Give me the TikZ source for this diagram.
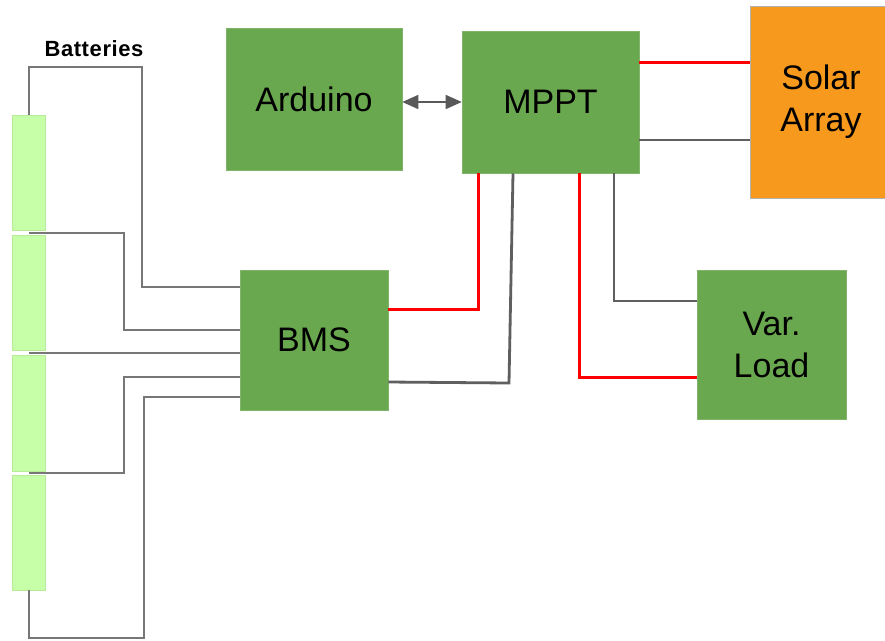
\documentclass[tikz,border=0pt]{standalone}
\usepackage{fontspec}
\setmainfont{Liberation Sans}
\usetikzlibrary{arrows.meta,calc}
\definecolor{boxgreen}{HTML}{6AA84F}
\definecolor{cellgreen}{HTML}{C6FFA8}
\definecolor{cellborder}{HTML}{B6EB98}
\definecolor{solarorange}{HTML}{F7991C}
\definecolor{wiregray}{HTML}{5F5F5F}
\definecolor{batgray}{HTML}{777777}
\definecolor{wirered}{HTML}{FF0000}
\tikzset{
  blockbox/.style={fill=boxgreen, draw=boxgreen!85!white, line width=0.6pt, inner sep=0pt,
    font=\fontsize{34}{42}\selectfont, align=center},
  cellbox/.style={fill=cellgreen, draw=cellborder, line width=0.8pt, minimum width=33pt, minimum height=115pt, inner sep=0pt},
  redwire/.style={draw=wirered, line width=3pt},
  graywire/.style={draw=wiregray, line width=2.8pt},
  batwire/.style={draw=batgray, line width=2pt},
}
\begin{document}
\begin{tikzpicture}[x=1pt,y=-1pt]
\useasboundingbox (0,0) rectangle (885,640);
\fill[white] (0,0) rectangle (885,640);

% blocks
\node[blockbox, minimum width=176pt, minimum height=142pt] (arduino) at (314,99) {Arduino};
\node[blockbox, minimum width=177pt, minimum height=142pt] (mppt) at (550.5,102) {MPPT};
\node[blockbox, fill=solarorange, draw=black!30, minimum width=142pt, minimum height=192pt] (solar) at (821,102) {Solar\\Array};
\node[blockbox, minimum width=148pt, minimum height=140pt] (bms) at (314,340) {BMS};
\node[blockbox, minimum width=149pt, minimum height=149pt] (load) at (771.5,344.5) {Var.\\Load};

% battery cells
\node[cellbox] (b1) at (28.5,172.5) {};
\node[cellbox] (b2) at (28.5,292.5) {};
\node[cellbox, minimum height=116pt] (b3) at (28.5,413) {};
\node[cellbox] (b4) at (28.5,532.5) {};
\node[font=\bfseries\fontsize{22}{26}\selectfont] (batlabel) at (94,49) {B\kern0.6pt a\kern0.6pt t\kern0.6pt t\kern0.6pt e\kern0.6pt r\kern0.6pt i\kern0.6pt e\kern0.6pt s};

\coordinate (j12) at ($(b1.south)!0.5!(b2.north)$);
\coordinate (j23) at ($(b2.south)!0.5!(b3.north)$);
\coordinate (j34) at ($(b3.south)!0.5!(b4.north)$);

% battery wires
\draw[batwire] (b1.north) -- (b1.north |- 0,67) -| (142,287) -- (bms.west |- 0,287);
\draw[batwire] (j12) -| (124,330) -- (bms.west |- 0,330);
\draw[batwire] (j23) -- (bms.west |- j23);
\draw[batwire] (j34) -| (124,377) -- (bms.west |- 0,377);
\draw[batwire] (b4.south) -- (b4.south |- 0,638) -| (144,397) -- (bms.west |- 0,397);

% arduino <-> mppt
\draw[draw=black!65, line width=1.6pt, {Triangle[width=14pt,length=16pt]}-{Triangle[width=14pt,length=16pt]}] (arduino.east |- 0,102) -- (mppt.west |- 0,102);

% mppt - solar
\draw[redwire] (mppt.east |- 0,62) -- (solar.west |- 0,62);
\draw[graywire] (mppt.east |- 0,140) -- (solar.west |- 0,140);

% bms - mppt
\draw[redwire] (bms.east |- 0,309) -| (mppt.south -| 478,0);
\draw[graywire] (bms.east |- 0,382) -- (509,383) -- (mppt.south -| 513,0);

% mppt - load
\draw[redwire] (mppt.south -| 579,0) |- (load.west |- 0,377);
\draw[graywire] (mppt.south -| 614,0) |- (load.west |- 0,301);
\end{tikzpicture}
\end{document}
